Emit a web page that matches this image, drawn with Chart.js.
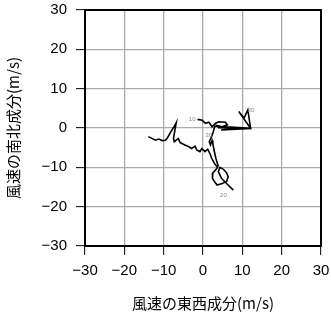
<!DOCTYPE html>
<html>
<head>
<meta charset="utf-8">
<script src="https://cdn.jsdelivr.net/npm/chart.js@4/dist/chart.umd.min.js"></script>
<style>
  body { margin: 0; background: #fff; }
</style>
</head>
<body>
<canvas id="hodo" width="331" height="318"></canvas>
<script>
// upper trace (starts at the "10" mark)
const u1 = [-1.4, -0.2, 0.6, 1.5, 2.3, 3.2, 4.0, 5.7, 6.2, 4.9, 3.6, 4.0, 12.1, 9.1, 10.4, 11.4, 12.1, 4.6, 6.5, 12.1, 5.0, 3.0, 2.6, 2.1, 1.6, 1.9, 2.3, 2.5, 2.8, 3.3, 3.9];
const v1 = [2.2, 2.0, 1.2, 1.45, 0.3, 1.2, 1.6, 1.45, 0.8, 0.3, 0.6, 0.1, -0.1, 4.2, 2.5, 4.6, -0.1, -0.5, -0.3, -0.1, 0.4, 0.5, -1.0, -2.4, -3.5, -4.3, -3.2, -4.0, -5.6, -7.8, -9.8];

// lower-left trace
const u2 = [-13.9, -12.1, -11.2, -10.4, -9.6, -9.1, -7.9, -7.2, -6.8, -7.5, -7.3, -6.3, -5.8, -4.6, -3.7, -2.9, -2.0, -1.6, -0.8, -0.3, 0.5, 1.2, 1.8, 2.2, 2.9, 3.7, 3.2, 2.5, 2.4, 2.9, 3.6, 4.7, 6.0, 6.4, 6.0, 5.2, 4.3, 3.9, 4.7, 6.0, 7.7];
const v2 = [-2.2, -3.1, -2.8, -3.2, -3.1, -2.6, -0.5, 0.6, 1.35, -2.6, -3.5, -2.65, -3.7, -4.3, -4.7, -5.2, -4.6, -5.6, -6.0, -5.2, -6.0, -5.4, -6.6, -7.7, -9.0, -10.0, -10.7, -11.4, -12.8, -13.6, -14.5, -14.2, -13.6, -12.4, -11.4, -10.5, -10.0, -11.1, -12.8, -14.1, -15.8];

// small marks along the trace
const markText = ['10', '20', '30', '20'];
const markU = [-2.75, 12.2, 1.5, 5.2];
const markV = [2.2, 4.4, -1.9, -17.0];

const tickVals = [-30, -20, -10, 0, 10, 20, 30];

function toPts(us, vs) {
    return us.map((u, i) => ({ x: u, y: vs[i] }));
}

const frame = {
    id: 'frame',
    afterDatasetsDraw(chart) {
        const a = chart.chartArea;
        const ctx = chart.ctx;
        ctx.save();
        // marks
        ctx.fillStyle = '#888';
        ctx.font = '6px "Liberation Sans", sans-serif';
        ctx.textAlign = 'center';
        ctx.textBaseline = 'middle';
        markText.forEach((t, i) => {
            ctx.fillText(t, chart.scales.x.getPixelForValue(markU[i]), chart.scales.y.getPixelForValue(markV[i]));
        });
        ctx.strokeStyle = '#000';
        ctx.lineWidth = 2;
        ctx.strokeRect(a.left, a.top, a.right - a.left, a.bottom - a.top);
        ctx.restore();
    }
};

const tickFont = { family: '"Liberation Sans", Helvetica, Arial, sans-serif', size: 15 };
const titleFont = { family: '"Noto Sans CJK JP", sans-serif', size: 15 };

function fmt(v) {
    return String(v).replace('-', '\u2212');
}

// drop the label overflow padding so the plot box sits where it should
function noOverflow(s) {
    s.paddingTop = 0;
    s.paddingBottom = 0;
    s.paddingLeft = 0;
    s.paddingRight = 0;
}

new Chart(document.getElementById('hodo'), {
    type: 'scatter',
    data: {
        datasets: [{
            data: toPts(u1, v1),
            showLine: true,
            borderColor: '#000',
            borderWidth: 1.6,
            pointRadius: 0,
            tension: 0
        }, {
            data: toPts(u2, v2),
            showLine: true,
            borderColor: '#000',
            borderWidth: 1.6,
            pointRadius: 0,
            tension: 0
        }]
    },
    options: {
        responsive: false,
        animation: false,
        layout: { padding: { top: 10, right: 10, left: 0, bottom: 0 } },
        plugins: {
            legend: { display: false },
            tooltip: { enabled: false }
        },
        scales: {
            x: {
                type: 'linear',
                min: -30,
                max: 30,
                afterBuildTicks: s => { s.ticks = tickVals.map(v => ({ value: v })); },
                afterFit: s => { s.height = 72; noOverflow(s); },
                ticks: { color: '#000', font: tickFont, padding: 7, maxRotation: 0, callback: fmt },
                grid: { color: '#aaa', lineWidth: 1.3, tickColor: '#000', tickLength: 9, tickWidth: 1 },
                border: { display: true, color: '#000', width: 2 },
                title: { display: true, text: '風速の東西成分(m/s)', color: '#000', font: titleFont, padding: { top: 0, bottom: 6 } }
            },
            y: {
                type: 'linear',
                min: -30,
                max: 30,
                afterBuildTicks: s => { s.ticks = tickVals.map(v => ({ value: v })); },
                afterFit: s => { s.width = 85; noOverflow(s); },
                ticks: { color: '#000', font: tickFont, padding: 9, callback: fmt },
                grid: { color: '#aaa', lineWidth: 1.3, tickColor: '#000', tickLength: 9, tickWidth: 1 },
                border: { display: true, color: '#000', width: 2 },
                title: { display: true, text: '風速の南北成分(m/s)', color: '#000', font: titleFont, padding: { top: 4, bottom: 0 } }
            }
        }
    },
    plugins: [frame]
});
</script>
</body>
</html>
